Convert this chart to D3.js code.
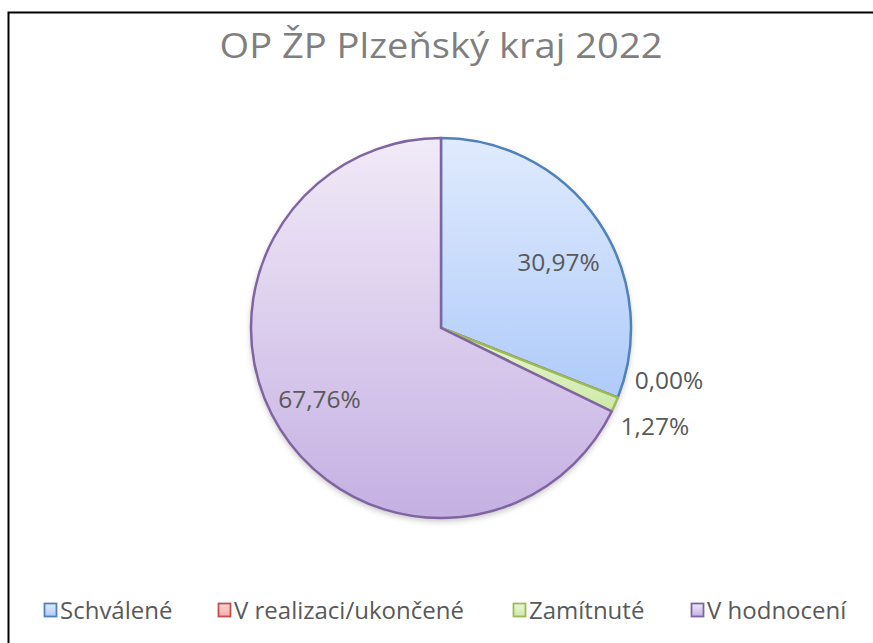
<!DOCTYPE html>
<html>
<head>
<meta charset="utf-8">
<script src="https://cdn.jsdelivr.net/npm/d3@7"></script>
<style>
  body { margin: 0; background: #fff; }
  text { font-family: "Open Sans", "Noto Sans", sans-serif; }
</style>
</head>
<body>
<script>
const W = 873, H = 643;

// data
const categories = ["Schválené", "V realizaci/ukončené", "Zamítnuté", "V hodnocení"];
const shares = [30.97, 0.00, 1.27, 67.76];
const labels = ["30,97%", "0,00%", "1,27%", "67,76%"];
const title = "OP ŽP Plzeňský kraj 2022";

// office 2010-ish palette
const strokes = ["#4f81bd", "#c0504d", "#9bbb59", "#8064a2"];
const topCol = ["#e0ebfd", "#fbd9d8", "#eaf6d9", "#f1eaf7"];
const botCol = ["#afcbfa", "#f5a9a7", "#cde9a7", "#c5b0e3"];

const svg = d3.select("body").append("svg")
  .attr("width", W).attr("height", H);

// frame (only left + top visible in the crop)
svg.append("path")
  .attr("d", "M8.5," + H + "V12.5H" + W)
  .attr("fill", "none").attr("stroke", "#000").attr("stroke-width", 2);

svg.append("text")
  .attr("x", 441).attr("y", 58)
  .attr("text-anchor", "middle")
  .attr("font-size", 35)
  .attr("fill", "#7f7f7f")
  .attr("textLength", 443).attr("lengthAdjust", "spacingAndGlyphs")
  .text(title);

const defs = svg.append("defs");
categories.forEach((c, i) => {
  const g = defs.append("linearGradient").attr("id", "grad" + i)
    .attr("x1", 0).attr("y1", 0).attr("x2", 0).attr("y2", 1);
  g.append("stop").attr("offset", 0).attr("stop-color", topCol[i]);
  g.append("stop").attr("offset", 1).attr("stop-color", botCol[i]);
});
const sh = defs.append("filter").attr("id", "shadow")
  .attr("x", "-10%").attr("y", "-10%").attr("width", "120%").attr("height", "125%");
sh.append("feDropShadow").attr("dx", 0).attr("dy", 3).attr("stdDeviation", 3)
  .attr("flood-color", "#000").attr("flood-opacity", 0.25);

const cx = 441, cy = 328, R = 190;
const pie = d3.pie().sort(null).value(d => d)(shares);
const arc = d3.arc().innerRadius(0).outerRadius(R);

const g = svg.append("g").attr("transform", `translate(${cx},${cy})`);
g.append("circle").attr("r", R).attr("fill", "#fff").attr("filter", "url(#shadow)");

g.selectAll("path.slice").data(pie).join("path")
  .attr("class", "slice")
  .attr("d", arc)
  .attr("fill", (d, i) => "url(#grad" + i + ")")
  .attr("stroke", (d, i) => strokes[i])
  .attr("stroke-width", 2.5)
  .attr("stroke-linejoin", "round");

// labels: big slices inside, small ones outside (nudged apart like excel does)
const inner = d3.arc().innerRadius(R * 0.71).outerRadius(R * 0.71);
const outer = d3.arc().innerRadius(R * 1.05).outerRadius(R * 1.05);
const nudge = [[6, 10], [8, -21], [-3, 18], [-7, 0]];
g.selectAll("text.lbl").data(pie).join("text")
  .attr("class", "lbl")
  .each(function (d, i) {
    const big = (d.endAngle - d.startAngle) > 0.3;
    const p = big ? inner.centroid(d) : outer.centroid(d);
    d3.select(this)
      .attr("x", p[0] + nudge[i][0])
      .attr("y", p[1] + nudge[i][1])
      .attr("text-anchor", big ? "middle" : "start")
      .attr("dy", "0.36em");
  })
  .attr("font-size", 24.5)
  .attr("fill", "#595959")
  .text((d, i) => labels[i]);

// legend
const legX = [44, 218, 513, 691];
const leg = svg.append("g").selectAll("g").data(categories).join("g")
  .attr("transform", (d, i) => `translate(${legX[i]},610)`);
leg.append("rect")
  .attr("x", 0.5).attr("y", -6.5).attr("width", 12).attr("height", 13)
  .attr("fill", (d, i) => "url(#grad" + i + ")")
  .attr("stroke", (d, i) => strokes[i]).attr("stroke-width", 1.8);
leg.append("text")
  .attr("x", 16).attr("y", 0).attr("dy", "0.36em")
  .attr("font-size", 24)
  .attr("fill", "#595959")
  .text(d => d);
</script>
</body>
</html>
